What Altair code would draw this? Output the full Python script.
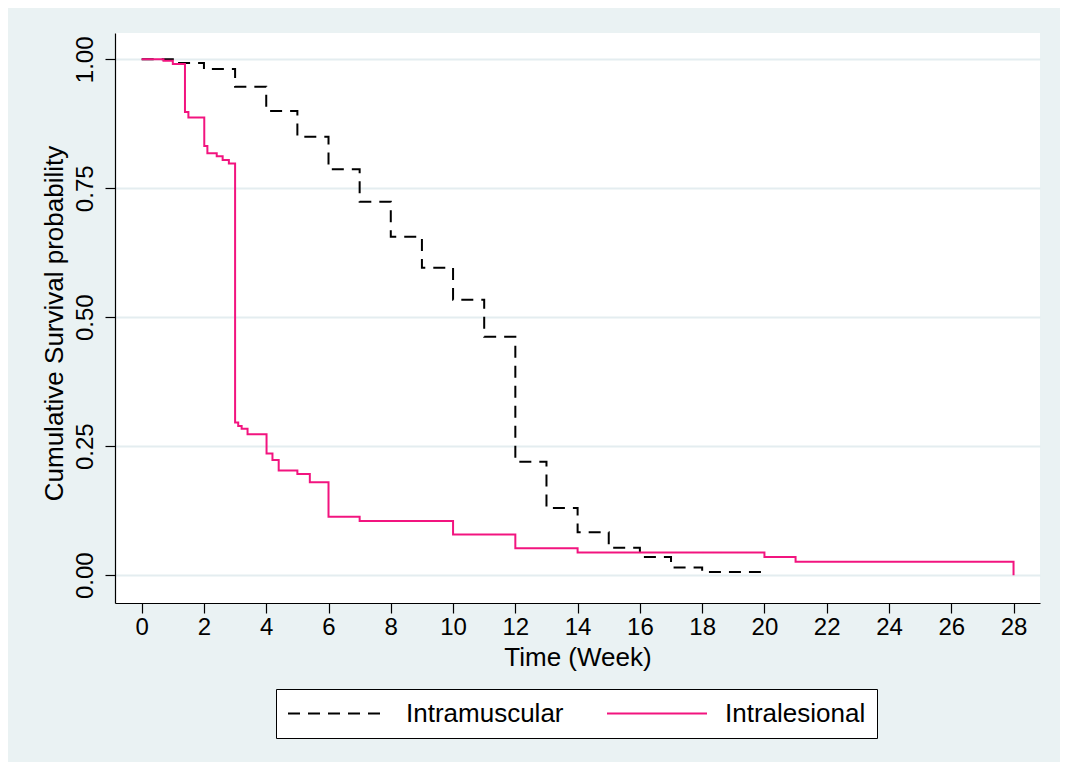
import altair as alt
import pandas as pd

# Kaplan-Meier step values
im_time = [0, 1.0, 2.0, 3.0, 4.0, 5.0, 6.0, 7.0, 8.0, 9.0, 10.0, 11.0, 12.0, 13.0, 14.0, 15.0, 16.0, 17.0, 18.0, 20.0]
im_surv = [1.0, 0.993, 0.981, 0.947, 0.900, 0.850, 0.787, 0.724, 0.656, 0.596, 0.534, 0.462, 0.220, 0.130, 0.083, 0.053, 0.035, 0.015, 0.006, 0.0]

il_time = [0, 0.7, 1.0, 1.39, 1.5, 2.01, 2.11, 2.41, 2.6, 2.8, 3.0, 3.1, 3.21, 3.4, 4.01, 4.2, 4.4, 5.0, 5.4, 6.0, 7.0, 10.0, 12.0, 14.0, 20.0, 21.0, 28.0]
il_surv = [1.0, 0.997, 0.991, 0.898, 0.887, 0.832, 0.818, 0.812, 0.805, 0.798, 0.296, 0.289, 0.284, 0.273, 0.236, 0.223, 0.203, 0.196, 0.180, 0.113, 0.105, 0.079, 0.052, 0.044, 0.035, 0.026, 0.0]

groups = ["Intramuscular", "Intralesional"]
colors = ["#000000", "#F2147F"]
dashes = [[12, 8], [1, 0]]
x_ticks = list(range(0, 29, 2))
y_ticks = [0.0, 0.25, 0.5, 0.75, 1.0]

df = pd.concat([
    pd.DataFrame({"time": im_time, "surv": im_surv, "group": groups[0], "ord": range(len(im_time))}),
    pd.DataFrame({"time": il_time, "surv": il_surv, "group": groups[1], "ord": range(len(il_time))}),
])

FONT = "Liberation Sans"

x_enc = alt.X("time:Q",
              scale=alt.Scale(domain=[-0.857, 28.85], nice=False, zero=False),
              axis=alt.Axis(values=x_ticks, title="Time (Week)", grid=False,
                            tickSize=10, labelFontSize=24, labelPadding=2,
                            titleFontSize=26, titlePadding=5, labelFlush=False))
y_enc = alt.Y("surv:Q",
              scale=alt.Scale(domain=[-0.054, 1.051], nice=False, zero=False),
              axis=alt.Axis(values=y_ticks, format=".2f", title="Cumulative Survival probability",
                            grid=True, gridColor="#E4EDF0", gridWidth=2,
                            tickSize=10, labelFontSize=24, labelAngle=270,
                            labelAlign="center", labelBaseline="alphabetic", labelPadding=13,
                            titleFontSize=26, titleAngle=270, titleAlign="center",
                            titleBaseline="alphabetic", titleX=-53, titleY=290, labelFlush=False))
color_enc = alt.Color("group:N", scale=alt.Scale(domain=groups, range=colors), title=None)
dash_enc = alt.StrokeDash("group:N", scale=alt.Scale(domain=groups, range=dashes), title=None)

base = alt.Chart(df).mark_line(interpolate="step-after", strokeWidth=2).encode(
    x=x_enc, y=y_enc, color=color_enc, strokeDash=dash_enc, order="ord:Q"
)

layer_im = base.transform_filter(alt.datum.group == groups[0])
layer_il = base.transform_filter(alt.datum.group == groups[1])

chart = alt.layer(layer_im, layer_il).properties(
    width=925, height=570,
    background="#EAF2F3",
    autosize=alt.AutoSizeParams(type="none"),
    padding={"left": 107, "top": 25, "right": 20, "bottom": 159},
).configure_view(
    fill="white", strokeWidth=0
).configure_axis(
    labelFont=FONT, titleFont=FONT, labelColor="black", titleColor="black",
    domainColor="black", tickColor="black", domainWidth=1.2, tickWidth=1.2,
    titleFontWeight="normal"
).configure_legend(
    orient="none", legendX=161, legendY=656, direction="horizontal",
    symbolType="stroke", symbolSize=10000, symbolStrokeWidth=2,
    labelFont=FONT, labelFontSize=26, labelColor="black", labelOffset=17,
    columnPadding=42, padding=11, strokeColor="black", fillColor="white",
    labelLimit=400, clipHeight=27
)

chart.save("out.html", embed_options={"renderer": "svg", "actions": False})
